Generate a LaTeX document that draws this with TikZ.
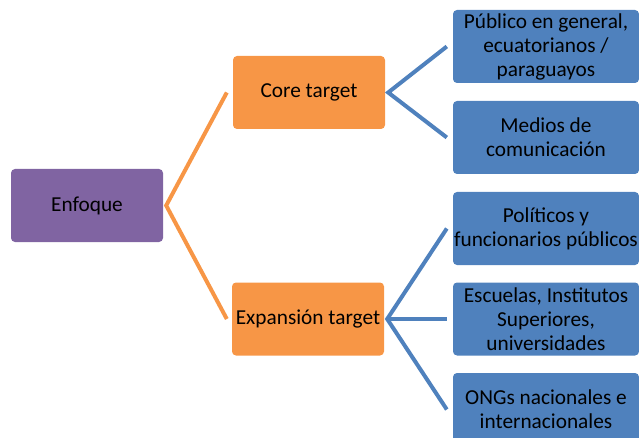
\documentclass[tikz,border=0pt]{standalone}
\usepackage{fontspec}
\setmainfont{Carlito}
\definecolor{purplebox}{HTML}{8064A2}
\definecolor{orangebox}{HTML}{F79646}
\definecolor{bluebox}{HTML}{4F81BD}
\tikzset{
  box/.style={rounded corners=4pt, minimum height=73pt, inner sep=0pt, align=center,
    font=\fontsize{21.3}{24}\selectfont, text=black},
  rootbox/.style={box, fill=purplebox, minimum width=152pt},
  midbox/.style={box, fill=orangebox, minimum width=152pt},
  leafbox/.style={box, fill=bluebox, minimum width=186pt},
  orangelink/.style={draw=orangebox, line width=4pt},
  bluelink/.style={draw=bluebox, line width=4pt},
}
\begin{document}
\begin{tikzpicture}[x=1pt,y=-1pt]
\useasboundingbox (0,0) rectangle (639,438);
\clip (0,0) rectangle (639,438);

\node[rootbox] (enf) at (87,205.5) {Enfoque};
\node[midbox] (core) at (309,92.5) {Core target};
\node[midbox] (exp) at (308,319) {Expansión target};

\node[leafbox] (l1) at (546,46.5) {Público en general,\\ecuatorianos /\\paraguayos};
\node[leafbox] (l2) at (546,137.5) {Medios de\\comunicación};
\node[leafbox] (l3) at (546,228.5) {Políticos y\\funcionarios públicos};
\node[leafbox] (l4) at (546,319) {Escuelas, Institutos\\Superiores,\\universidades};
\node[leafbox] (l5) at (546,409.5) {ONGs nacionales e\\internacionales};

% junction points beside the boxes
\coordinate (ej) at ([xshift=3pt]enf.east);
\coordinate (cj) at ([xshift=3pt]core.east);
\coordinate (xj) at ([xshift=3pt]exp.east);

\draw[orangelink] ([xshift=-6pt]core.west) -- (ej) -- ([xshift=-5pt]exp.west);
\draw[bluelink] ([xshift=-6pt]l1.west) -- (cj) -- ([xshift=-6pt]l2.west);
\draw[bluelink] ([xshift=-6pt]l3.west) -- (xj) -- ([xshift=-6pt]l5.west);
\draw[bluelink] (xj) -- ([xshift=-6pt]l4.west);
\end{tikzpicture}
\end{document}
